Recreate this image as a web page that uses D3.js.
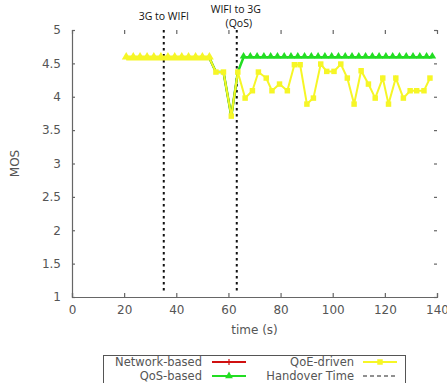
<!DOCTYPE html>
<html><head><meta charset="utf-8">
<script src="https://cdn.jsdelivr.net/npm/d3@7"></script>
<style>body{margin:0;background:#fff}svg{display:block}</style>
</head><body>
<script>
// ---- data ----
const xTicks = [0, 20, 40, 60, 80, 100, 120, 140];
const yTicks = [1, 1.5, 2, 2.5, 3, 3.5, 4, 4.5, 5];
const yTickLabels = ["1", "1.5", "2", "2.5", "3", "3.5", "4", "4.5", "5"];

// shared part (before second handover)
const sharedTime = [20.8, 23.5, 26.1, 28.8, 31.4, 34.1, 36.8, 39.4, 42.1, 44.7, 47.4, 50.0, 52.7, 55.2, 58.1, 61.1, 63.6];
const sharedMOS  = [4.58, 4.58, 4.58, 4.58, 4.58, 4.58, 4.58, 4.58, 4.58, 4.58, 4.58, 4.58, 4.58, 4.37, 4.37, 3.71, 4.37];

// QoE-driven after 63 s
const qoeTime = [66.4, 69.2, 71.5, 74.5, 76.7, 79.6, 82.6, 85.3, 87.5, 90.1, 92.6, 95.4, 97.7, 100.5, 103.1, 105.6, 108.2, 110.9, 113.7, 116.3, 119.2, 121.4, 124.2, 127.1, 129.7, 132.2, 135.0, 137.3];
const qoeMOS  = [3.98, 4.09, 4.37, 4.28, 4.09, 4.19, 4.09, 4.48, 4.48, 3.89, 3.98, 4.49, 4.38, 4.38, 4.49, 4.28, 3.89, 4.39, 4.19, 3.98, 4.28, 3.89, 4.28, 3.98, 4.09, 4.09, 4.09, 4.28];

// QoS-based after 63 s
const qosTime = [65.8, 68.4, 71.0, 73.6, 76.2, 78.8, 81.4, 84.0, 86.6, 89.2, 91.8, 94.4, 97.0, 99.6, 102.2, 104.8, 107.4, 110.0, 112.6, 115.2, 117.8, 120.4, 123.0, 125.6, 128.2, 130.8, 133.4, 136.0, 138.2];
const qosMOS  = [4.59, 4.59, 4.59, 4.59, 4.59, 4.59, 4.59, 4.59, 4.59, 4.59, 4.59, 4.59, 4.59, 4.59, 4.59, 4.59, 4.59, 4.59, 4.59, 4.59, 4.59, 4.59, 4.59, 4.59, 4.59, 4.59, 4.59, 4.59, 4.59];

const handoverTimes = [35.2, 63.2];
const handoverLabels = [["3G to WIFI"], ["WIFI to 3G", "(QoS)"]];
const legendItems = ["Network-based", "QoS-based", "QoE-driven", "Handover Time"];

// ---- build ----
const W = 447, H = 383;
const L = 72, R = 437, T = 30, B = 297;
const svg = d3.select("body").append("svg").attr("width", W).attr("height", H);
const x = d3.scaleLinear().domain([0, 140]).range([L, R]);
const y = d3.scaleLinear().domain([1, 5]).range([B, T]);

const font = "DejaVu Sans, sans-serif";
const axisCol = "#666", textCol = "#555";

// axes
const xAxis = svg.append("g").attr("transform", `translate(0,${B})`)
  .call(d3.axisBottom(x).tickValues(xTicks).tickSize(-4).tickPadding(8));
const yAxis = svg.append("g").attr("transform", `translate(${L},0)`)
  .call(d3.axisLeft(y).tickValues(yTicks).tickFormat((d, i) => yTickLabels[i]).tickSize(-3).tickPadding(11));
// mirrored ticks (top & right), no line
const xTop = svg.append("g").attr("transform", `translate(0,${T})`)
  .call(d3.axisTop(x).tickValues(xTicks).tickSize(-4).tickFormat(""));
const yRight = svg.append("g").attr("transform", `translate(${R},0)`)
  .call(d3.axisRight(y).tickValues(yTicks).tickSize(-3).tickFormat(""));
xTop.select(".domain").remove();
yRight.select(".domain").remove();
[xAxis, yAxis, xTop, yRight].forEach(g => {
  g.selectAll("path,line").attr("stroke", axisCol).attr("stroke-width", 1.2);
  g.selectAll("text").attr("fill", textCol).style("font-family", font).style("font-size", "12px");
});

// handover lines
svg.append("g").selectAll("line").data(handoverTimes).join("line")
  .attr("x1", d => x(d)).attr("x2", d => x(d)).attr("y1", T).attr("y2", B - 6)
  .attr("stroke", "#111").attr("stroke-width", 2).attr("stroke-dasharray", "2.5,3.5");

// annotation labels
const annFont = "Open Sans, sans-serif";
svg.append("text").attr("x", x(handoverTimes[0])).attr("y", 20).attr("text-anchor", "middle")
  .style("font-family", annFont).style("font-size", "10.5px").attr("fill", "#111").text(handoverLabels[0][0]);
handoverLabels[1].forEach((t, i) => {
  svg.append("text").attr("x", x(handoverTimes[1]) + (i ? 2 : -1)).attr("y", 13 + i * 14).attr("text-anchor", "middle")
    .style("font-family", annFont).style("font-size", "10.5px").attr("fill", "#111").text(t);
});

const line = d3.line().x(d => x(d[0])).y(d => y(d[1]));
const shared = sharedTime.map((t, i) => [t, sharedMOS[i]]);
const qos = shared.concat(qosTime.map((t, i) => [t, qosMOS[i]]));
const qoe = shared.concat(qoeTime.map((t, i) => [t, qoeMOS[i]]));

const RED = "#d01010", GREEN = "#22dd22", YELLOW = "#f6f626";
const tri = d3.symbol().type(d3.symbolTriangle).size(26);
const triBig = d3.symbol().type(d3.symbolTriangle).size(34);
const sq = d3.symbol().type(d3.symbolSquare).size(30);
const cross = d3.symbol().type(d3.symbolCross).size(20);

// network-based (hidden underneath)
svg.append("path").datum(shared).attr("d", line).attr("fill", "none").attr("stroke", RED).attr("stroke-width", 2);

// QoS-based
svg.append("path").datum(qos).attr("d", line).attr("fill", "none").attr("stroke", GREEN).attr("stroke-width", 2.5);
svg.append("g").selectAll("path").data(qos.filter(d => d[0] > 64)).join("path")
  .attr("transform", d => `translate(${x(d[0])},${y(d[1]) - 1})`).attr("d", tri).attr("fill", GREEN);

// QoE-driven
svg.append("path").datum(qoe).attr("d", line).attr("fill", "none").attr("stroke", YELLOW).attr("stroke-width", 2);
svg.append("path").datum(qoe.filter(d => d[0] < 53)).attr("d", line).attr("fill", "none").attr("stroke", YELLOW).attr("stroke-width", 5);
svg.append("g").selectAll("path").data(qoe).join("path")
  .attr("transform", d => `translate(${x(d[0])},${y(d[1]) - (d[0] < 53 ? 1 : 0)})`)
  .attr("d", d => d[0] < 53 ? triBig() : sq()).attr("fill", YELLOW);

// axis label
svg.append("text").attr("transform", `translate(19,${(T + B) / 2}) rotate(-90)`).attr("text-anchor", "middle")
  .style("font-family", font).style("font-size", "12px").attr("fill", textCol).text("MOS");
svg.append("text").attr("x", (L + R) / 2).attr("y", 334).attr("text-anchor", "middle")
  .style("font-family", font).style("font-size", "12px").attr("fill", textCol).text("time (s)");

// legend
const lg = svg.append("g");
lg.append("rect").attr("x", 103.5).attr("y", 355.5).attr("width", 302).attr("height", 40)
  .attr("fill", "none").attr("stroke", "#555").attr("stroke-width", 1);
const legendPos = [
  {tx: 202, ty: 366, lx: 212, col: RED, mark: cross, dash: null},
  {tx: 202, ty: 380, lx: 212, col: GREEN, mark: tri, dash: null},
  {tx: 354, ty: 366, lx: 363, col: YELLOW, mark: sq, dash: null},
  {tx: 354, ty: 380, lx: 363, col: "#222", mark: null, dash: "4,3"}
];
legendItems.forEach((name, i) => {
  const p = legendPos[i];
  lg.append("text").attr("x", p.tx).attr("y", p.ty).attr("text-anchor", "end")
    .style("font-family", font).style("font-size", "11.5px").attr("fill", textCol).text(name);
  lg.append("line").attr("x1", p.lx).attr("x2", p.lx + 34).attr("y1", p.ty - 4).attr("y2", p.ty - 4)
    .attr("stroke", p.col).attr("stroke-width", p.dash ? 1.2 : 2).attr("stroke-dasharray", p.dash);
  if (i === 0) {
    lg.append("line").attr("x1", p.lx + 17).attr("x2", p.lx + 17).attr("y1", p.ty - 7).attr("y2", p.ty - 1)
      .attr("stroke", RED).attr("stroke-width", 1.2);
  } else if (p.mark) {
    lg.append("path").attr("transform", `translate(${p.lx + 17},${p.ty - 4})`)
      .attr("d", p.mark()).attr("fill", p.col);
  }
});
</script>
</body></html>
